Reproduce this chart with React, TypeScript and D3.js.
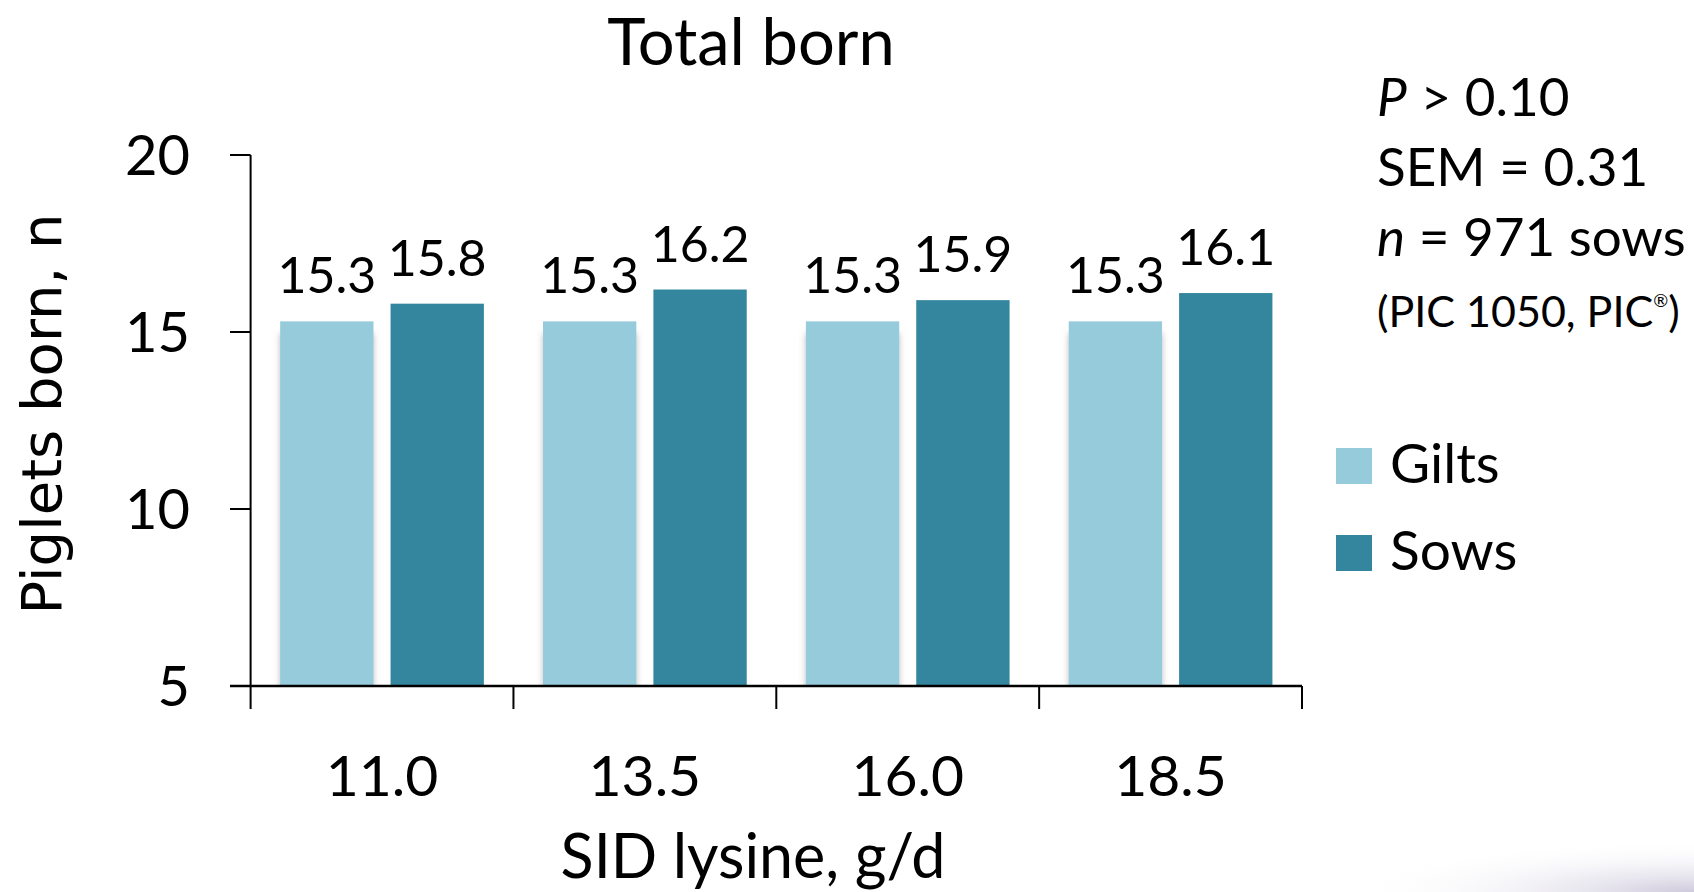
import React from "react";
import * as d3 from "d3";

const categories = ["11.0", "13.5", "16.0", "18.5"];
const seriesNames = ["Gilts", "Sows"];
const gilts = [15.3, 15.3, 15.3, 15.3];
const sows = [15.8, 16.2, 15.9, 16.1];
const yTicks = [5, 10, 15, 20];
const statLines = ["P > 0.10", "SEM = 0.31", "n = 971 sows", "(PIC 1050, PIC®)"];

const W = 1694;
const H = 892;
const colors: Record<string, string> = { Gilts: "#96cbdc", Sows: "#33869d" };
const FONT = "Lato, 'Open Sans', sans-serif";

export default function App() {
  const y = d3.scaleLinear().domain([5, 20]).range([686, 155]);
  const x0 = d3.scaleBand<string>().domain(categories).range([250.6, 1302]).paddingInner(0).paddingOuter(0);
  const x1 = d3
    .scaleBand<string>()
    .domain(seriesNames)
    .range([0, x0.bandwidth()])
    .paddingInner(0.1545)
    .paddingOuter(0.268);
  const values: Record<string, number[]> = { Gilts: gilts, Sows: sows };
  const boundaries = [...categories.map((c) => x0(c) as number), 1302];
  const fmt = d3.format(".1f");

  return (
    <svg
      width={W}
      height={H}
      style={{ position: "absolute", left: 0, top: 0, background: "#fff" }}
      fontFamily={FONT}
    >
      <defs>
        <filter id="sh" x="-20%" y="-5%" width="140%" height="115%">
          <feDropShadow dx="0" dy="12" stdDeviation="3" floodColor="#777" floodOpacity="0.5" />
        </filter>
        <clipPath id="plotclip">
          <rect x={0} y={0} width={W} height={y(5)} />
        </clipPath>
        <radialGradient id="corner" cx="1" cy="1" r="1">
          <stop offset="0" stopColor="#c9c4d8" stopOpacity="0.9" />
          <stop offset="1" stopColor="#ffffff" stopOpacity="0" />
        </radialGradient>
      </defs>
      <rect x={0} y={0} width={W} height={H} fill="#fff" />
      <rect x={1350} y={840} width={344} height={52} fill="url(#corner)" />

      {/* Title */}
      <text x={751} y={65} textAnchor="middle" fontSize={65} fill="#000">
        Total born
      </text>

      {/* Bars */}
      {categories.map((c, i) => (
        <g key={c} transform={`translate(${x0(c)},0)`}>
          {seriesNames.map((s) => {
            const v = values[s][i];
            const bx = x1(s) as number;
            return (
              <g key={s}>
                <g clipPath="url(#plotclip)">
                  <rect
                    x={bx}
                    y={y(v)}
                    width={x1.bandwidth()}
                    height={y(5) - y(v)}
                    fill={colors[s]}
                    filter={s === "Gilts" ? "url(#sh)" : undefined}
                  />
                </g>
                <text
                  x={bx + x1.bandwidth() / 2}
                  y={y(v) - 28}
                  textAnchor="middle"
                  fontSize={50}
                  fill="#000"
                >
                  {fmt(v)}
                </text>
              </g>
            );
          })}
        </g>
      ))}

      {/* Y axis */}
      <line x1={250.6} x2={250.6} y1={y(20)} y2={y(5)} stroke="#000" strokeWidth={2} />
      {yTicks.map((t) => (
        <g key={t}>
          <line x1={230} x2={250.6} y1={y(t)} y2={y(t)} stroke="#000" strokeWidth={2} />
          <text x={190} y={y(t)} dy="0.36em" textAnchor="end" fontSize={56} fill="#000">
            {t}
          </text>
        </g>
      ))}

      {/* X axis */}
      <line x1={230} x2={1302} y1={y(5)} y2={y(5)} stroke="#000" strokeWidth={2.5} />
      {boundaries.map((b, i) => (
        <line key={i} x1={b} x2={b} y1={y(5)} y2={y(5) + 23} stroke="#000" strokeWidth={2} />
      ))}
      {categories.map((c) => (
        <text
          key={c}
          x={(x0(c) as number) + x0.bandwidth() / 2}
          y={796}
          textAnchor="middle"
          fontSize={57}
          fill="#000"
        >
          {c}
        </text>
      ))}

      {/* Axis titles */}
      <text x={753} y={878} textAnchor="middle" fontSize={61} fill="#000">
        SID lysine, g/d
      </text>
      <text
        transform={`translate(61,414) rotate(-90)`}
        textAnchor="middle"
        fontSize={56}
        fontFamily="'DejaVu Sans', Verdana, sans-serif"
        fill="#000"
      >
        Piglets born, n
      </text>

      {/* Stats */}
      <text x={1377} y={116} fontSize={53} fill="#000">
        <tspan fontStyle="italic">P</tspan>
        <tspan> {statLines[0].slice(2)}</tspan>
      </text>
      <text x={1377} y={186} fontSize={53} fill="#000">
        {statLines[1]}
      </text>
      <text x={1377} y={256} fontSize={53} fill="#000">
        <tspan fontStyle="italic">n</tspan>
        <tspan> {statLines[2].slice(2)}</tspan>
      </text>
      <text x={1377} y={327} fontSize={43} fill="#000">
        (PIC 1050, PIC
        <tspan fontSize={18} dy={-20}>®</tspan>
        <tspan dy={20}>)</tspan>
      </text>

      {/* Legend */}
      {seriesNames.map((s, i) => (
        <g key={s} transform={`translate(1336,${448 + i * 87})`}>
          <rect x={0} y={0} width={36} height={36} fill={colors[s]} />
          <text x={54} y={35} fontSize={55} fill="#000">
            {s}
          </text>
        </g>
      ))}
    </svg>
  );
}
